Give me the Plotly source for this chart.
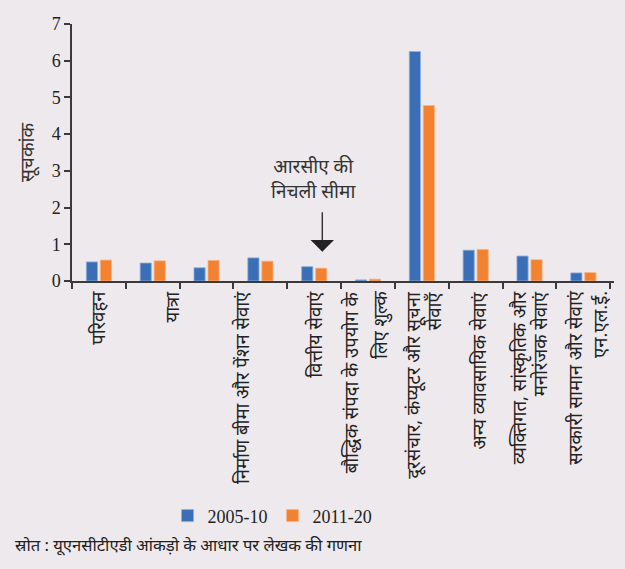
import plotly.graph_objects as go

# Service categories (x axis) and index values for the two periods
categories = [
    "परिवहन",
    "यात्रा",
    "निर्माण",
    "बीमा और पेंशन सेवाएं",
    "वित्तीय सेवाएं",
    "बौद्धिक संपदा के उपयोग के लिए शुल्क",
    "दूरसंचार, कंप्यूटर और सूचना सेवाएँ",
    "अन्य व्यावसायिक सेवाएं",
    "व्यक्तिगत, सांस्कृतिक और मनोरंजक सेवाएं",
    "सरकारी सामान और सेवाएं एन.एल.ई.",
]
values_2005_10 = [0.52, 0.49, 0.36, 0.63, 0.39, 0.03, 6.25, 0.84, 0.68, 0.22]
values_2011_20 = [0.57, 0.55, 0.56, 0.54, 0.35, 0.05, 4.78, 0.86, 0.58, 0.23]
series_names = ["2005-10", "2011-20"]

# Axis label lines as printed under the axis
tick_label_lines = [
    "परिवहन",
    "यात्रा",
    "निर्माण बीमा और पेंशन सेवाएं",
    "वित्तीय सेवाएं",
    "बौद्धिक संपदा के उपयोग के",
    "लिए शुल्क",
    "दूरसंचार, कंप्यूटर और सूचना",
    "सेवाएँ",
    "अन्य व्यावसायिक सेवाएं",
    "व्यक्तिगत, सांस्कृतिक और",
    "मनोरंजक सेवाएं",
    "सरकारी सामान और सेवाएं",
    "एन.एल.ई.",
]
tick_label_pos = [-0.04, 1.33, 2.65, 4.0, 4.67, 5.22, 5.83, 6.22, 7.05, 7.8, 8.19, 8.82, 9.3]

y_ticks = [0, 1, 2, 3, 4, 5, 6, 7]
y_title = "सूचकांक"
note_text = "आरसीए की<br>निचली सीमा"
source_text = "स्रोत : यूएनसीटीएडी आंकड़ो के आधार पर लेखक की गणना"

BLUE = "#3A6FB8"
ORANGE = "#F28230"
BG = "#EEE9EC"
AXIS = "#3a3a3a"
DEV_FONT = "Noto Sans, sans-serif"
NUM_FONT = "Liberation Serif, serif"

fig = go.Figure()
fig.add_trace(go.Bar(x=categories, y=values_2005_10, name=series_names[0],
                     marker=dict(color=BLUE, line=dict(color="#8FB0DC", width=0.8))))
fig.add_trace(go.Bar(x=categories, y=values_2011_20, name=series_names[1],
                     marker=dict(color=ORANGE, line=dict(color="#F7B487", width=0.8))))

annotations = []
for txt, pos in zip(tick_label_lines, tick_label_pos):
    annotations.append(dict(
        x=pos, xref="x", y=0, yref="paper", yshift=-8,
        text=txt, textangle=-90, showarrow=False,
        xanchor="center", yanchor="top",
        font=dict(family=DEV_FONT, size=18.5, color="#222222"),
    ))

# RCA lower bound note with downward arrow
annotations.append(dict(
    x=3.98, xref="x", y=2.8, yref="y", text=note_text, showarrow=False,
    xanchor="center", yanchor="middle", align="center",
    font=dict(family=DEV_FONT, size=19, color="#333333"),
))
annotations.append(dict(
    x=4.15, xref="x", y=0.8, yref="y", text="", showarrow=True,
    ax=0, ay=-41, arrowhead=1, arrowsize=3, arrowwidth=1.3, arrowcolor="#222222",
))
annotations.append(dict(
    x=-0.109, xref="paper", y=-1.025, yref="paper", text=source_text,
    showarrow=False, xanchor="left", yanchor="middle",
    font=dict(family=DEV_FONT, size=16.6, color="#222222"),
))

fig.update_layout(
    width=625, height=569,
    margin=dict(l=72, r=11, t=24, b=288),
    paper_bgcolor=BG, plot_bgcolor=BG,
    barmode="group", bargap=0.48, bargroupgap=0.2,
    showlegend=True,
    legend=dict(orientation="h", x=0.37, xanchor="center", y=-0.914, yanchor="middle",
                font=dict(family=NUM_FONT, size=18, color="#222222"),
                bgcolor="rgba(0,0,0,0)", itemwidth=30, traceorder="normal"),
    annotations=annotations,
)
fig.update_xaxes(
    type="category", showticklabels=False, tickson="boundaries",
    ticks="outside", ticklen=6, tickcolor=AXIS, tickwidth=1.5,
    showline=True, linecolor=AXIS, linewidth=1.5, showgrid=False, zeroline=False,
)
fig.update_yaxes(
    range=[0, 7], tickvals=y_ticks, ticks="outside", ticklen=6,
    tickcolor=AXIS, tickwidth=1.5, showline=True, linecolor=AXIS, linewidth=1.5,
    showgrid=False, zeroline=False,
    tickfont=dict(family=NUM_FONT, size=18, color="#222222"),
    title=dict(text=y_title, standoff=12, font=dict(family=DEV_FONT, size=19, color="#333333")),
)

fig.write_html("out.html")
